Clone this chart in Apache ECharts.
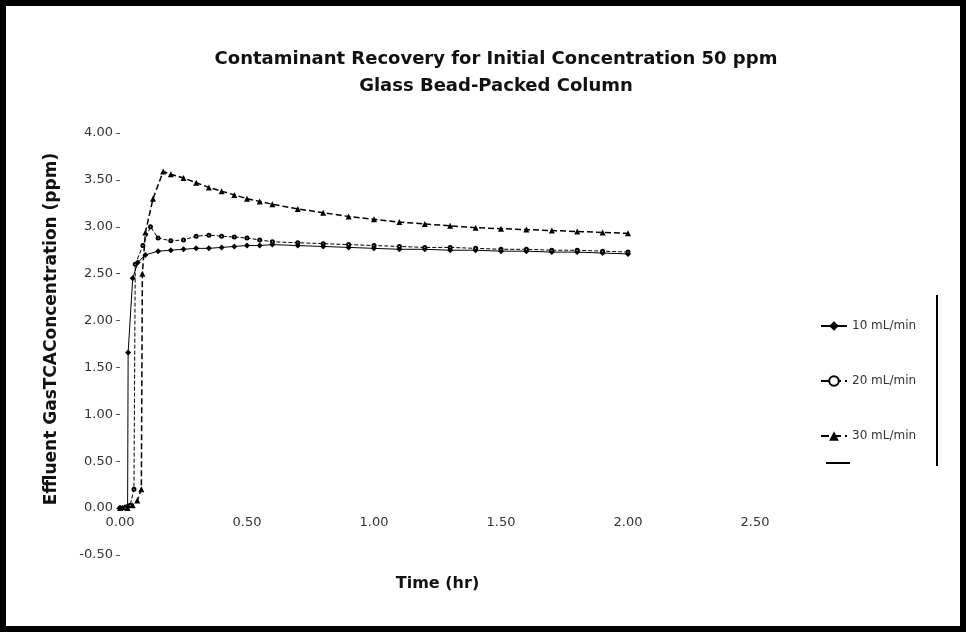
<!DOCTYPE html>
<html>
<head>
<meta charset="utf-8">
<title>Contaminant Recovery</title>
<script src="https://cdn.jsdelivr.net/npm/echarts@6/dist/echarts.min.js"></script>
<style>
  html, body { margin: 0; padding: 0; background: #fff; }
  #chart { width: 966px; height: 632px; }
</style>
</head>
<body>
<div id="chart"></div>
<script>
// time (hr) and effluent gas TCA concentration (ppm)
const seriesNames = ['10 mL/min', '20 mL/min', '30 mL/min']
const xTicks = ['0.00', '0.50', '1.00', '1.50', '2.00', '2.50']

const timeA = [0, 0.01, 0.02, 0.03, 0.032, 0.05, 0.07, 0.1, 0.15, 0.2, 0.25, 0.3, 0.35, 0.4, 0.45, 0.5, 0.55, 0.6, 0.7, 0.8, 0.9, 1.0, 1.1, 1.2, 1.3, 1.4, 1.5, 1.6, 1.7, 1.8, 1.9, 2.0]
const concA = [0, 0, 0.01, 0.02, 1.66, 2.45, 2.62, 2.70, 2.74, 2.75, 2.76, 2.77, 2.77, 2.78, 2.79, 2.80, 2.80, 2.81, 2.80, 2.79, 2.78, 2.77, 2.76, 2.76, 2.75, 2.75, 2.74, 2.74, 2.73, 2.73, 2.72, 2.71]

const timeB = [0, 0.02, 0.04, 0.055, 0.06, 0.09, 0.12, 0.15, 0.2, 0.25, 0.3, 0.35, 0.4, 0.45, 0.5, 0.55, 0.6, 0.7, 0.8, 0.9, 1.0, 1.1, 1.2, 1.3, 1.4, 1.5, 1.6, 1.7, 1.8, 1.9, 2.0]
const concB = [0, 0, 0.03, 0.2, 2.6, 2.8, 3.0, 2.88, 2.85, 2.86, 2.9, 2.91, 2.9, 2.89, 2.88, 2.86, 2.84, 2.83, 2.82, 2.81, 2.80, 2.79, 2.78, 2.78, 2.77, 2.76, 2.76, 2.75, 2.75, 2.74, 2.73]

const timeC = [0, 0.03, 0.05, 0.068, 0.084, 0.088, 0.1, 0.13, 0.17, 0.2, 0.25, 0.3, 0.35, 0.4, 0.45, 0.5, 0.55, 0.6, 0.7, 0.8, 0.9, 1.0, 1.1, 1.2, 1.3, 1.4, 1.5, 1.6, 1.7, 1.8, 1.9, 2.0]
const concC = [0, 0, 0.03, 0.08, 0.2, 2.5, 2.94, 3.3, 3.59, 3.56, 3.52, 3.47, 3.42, 3.38, 3.34, 3.30, 3.27, 3.24, 3.19, 3.15, 3.11, 3.08, 3.05, 3.03, 3.01, 2.99, 2.98, 2.97, 2.96, 2.95, 2.94, 2.93]

const pairs = (xs, ys) => xs.map((x, i) => [x, ys[i]])

const chart = echarts.init(document.getElementById('chart'))
const font = 'DejaVu Sans, Verdana, sans-serif'

const option = {
  animation: false,
  backgroundColor: '#fff',
  textStyle: { fontFamily: font },
  title: {
    text: 'Contaminant Recovery for Initial Concentration 50 ppm\nGlass Bead-Packed Column',
    left: 491,
    top: 41,
    textAlign: 'center',
    textStyle: { fontSize: 18, fontWeight: 'bold', color: '#111', lineHeight: 27, fontFamily: font }
  },
  legend: {
    orient: 'vertical',
    left: 815,
    top: 315,
    itemGap: 43,
    itemWidth: 26,
    itemHeight: 12,
    textStyle: { fontSize: 12, color: '#333', fontFamily: font },
    data: seriesNames
  },
  grid: { left: 120, right: 211, top: 133, bottom: 77 },
  xAxis: {
    type: 'value',
    min: 0,
    max: 2.5,
    interval: 0.5,
    // axis sits on the zero line (0.5 ppm above the bottom of the plot)
    offset: -47,
    name: 'Time (hr)',
    nameLocation: 'middle',
    nameGap: 68,
    nameTextStyle: { fontSize: 16, fontWeight: 'bold', color: '#111' },
    axisLine: { show: false },
    axisTick: { show: false },
    splitLine: { show: false },
    axisLabel: {
      fontSize: 13, color: '#333', margin: 8,
      formatter: v => xTicks[Math.round(v / 0.5)]
    }
  },
  yAxis: {
    type: 'value',
    min: -0.5,
    max: 4,
    interval: 0.5,
    name: 'Effluent GasTCAConcentration (ppm)',
    nameLocation: 'middle',
    nameGap: 60,
    nameTextStyle: { fontSize: 17, fontWeight: 'bold', color: '#111', padding: [0, 0, 0, 30] },
    axisLine: { show: false },
    axisTick: { show: true, length: 4, lineStyle: { color: '#555' } },
    splitLine: { show: false },
    axisLabel: { fontSize: 13, color: '#333', margin: 7, formatter: v => v.toFixed(2) }
  },
  graphic: [
    { type: 'rect', shape: { x: 3, y: 3, width: 960, height: 626 }, style: { fill: 'none', stroke: '#000', lineWidth: 6 } },
    { type: 'line', shape: { x1: 937, y1: 295, x2: 937, y2: 466 }, style: { stroke: '#000', lineWidth: 2 } },
    { type: 'line', shape: { x1: 826, y1: 463, x2: 850, y2: 463 }, style: { stroke: '#000', lineWidth: 2 } }
  ],
  series: [
    {
      name: seriesNames[0],
      type: 'line',
      data: pairs(timeA, concA),
      symbol: 'diamond',
      symbolSize: 6,
      color: '#000',
      itemStyle: { color: '#000' },
      lineStyle: { color: '#000', width: 1 }
    },
    {
      name: seriesNames[1],
      type: 'line',
      data: pairs(timeB, concB),
      symbol: 'emptyCircle',
      symbolSize: 3,
      color: '#000',
      itemStyle: { color: '#000', borderColor: '#000' },
      lineStyle: { color: '#000', width: 1, type: 'dashed' }
    },
    {
      name: seriesNames[2],
      type: 'line',
      data: pairs(timeC, concC),
      symbol: 'triangle',
      symbolSize: 6,
      color: '#000',
      itemStyle: { color: '#000' },
      lineStyle: { color: '#000', width: 1.5, type: 'dashed' }
    }
  ]
}

chart.setOption(option)
</script>
</body>
</html>
